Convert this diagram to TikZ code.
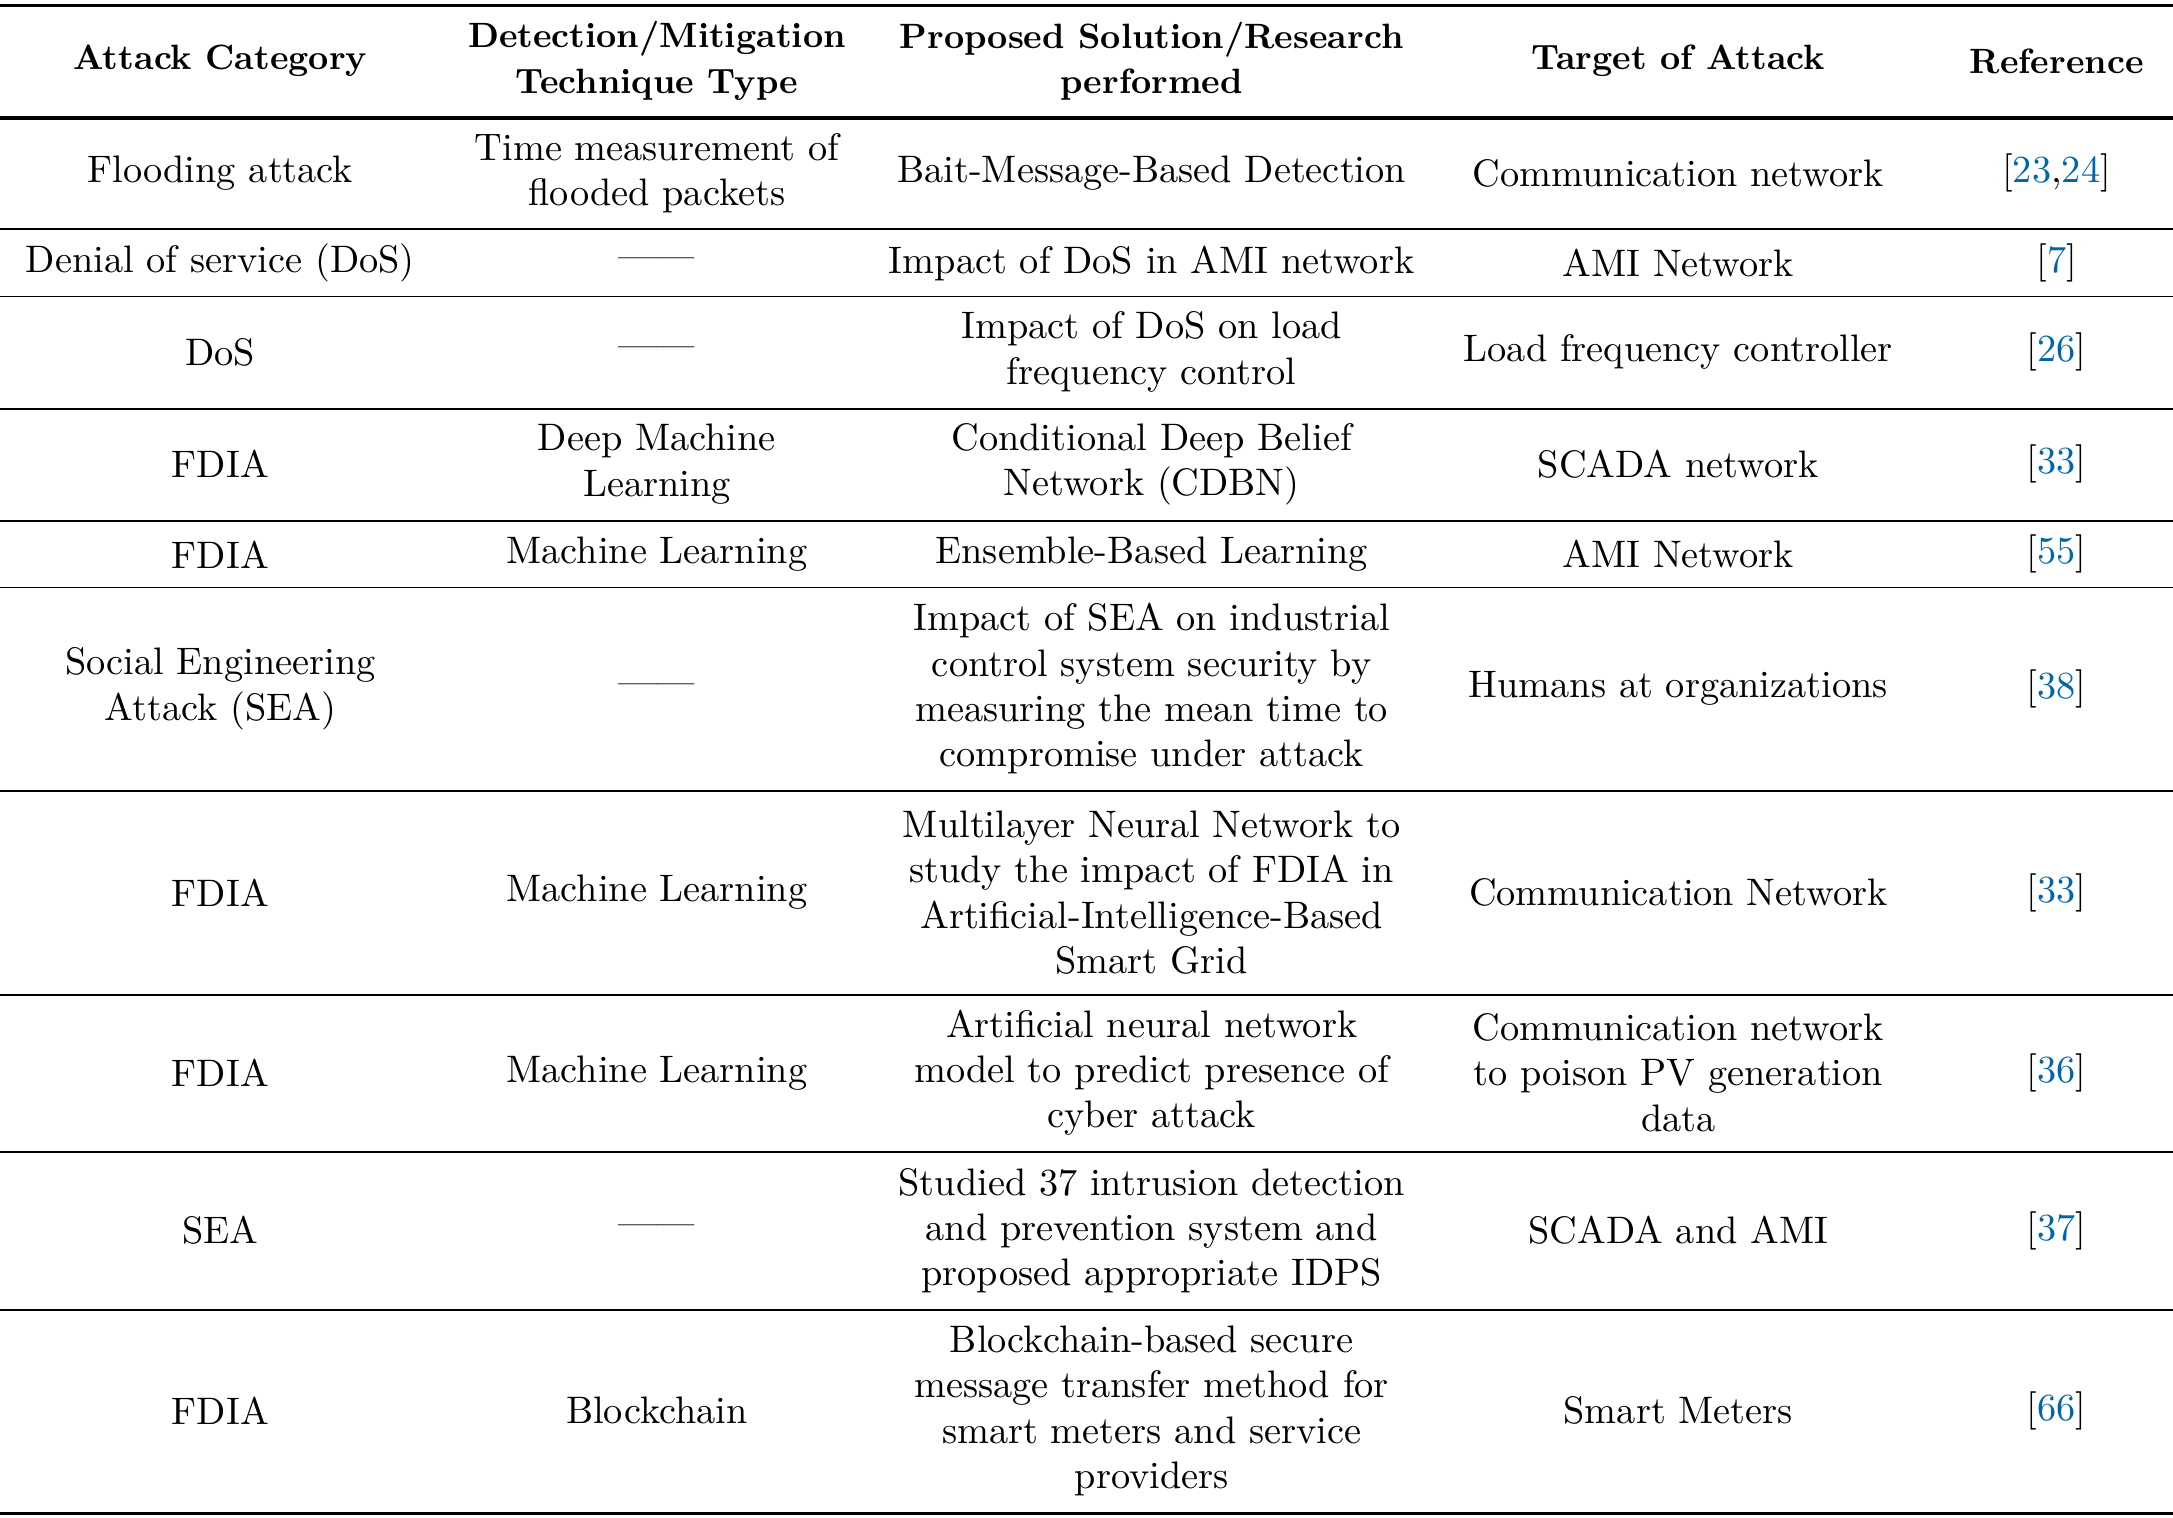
\documentclass[tikz,border=0pt]{standalone}
\usepackage{xcolor}
\definecolor{citeblue}{RGB}{0,102,170}
\tikzset{cell/.style={align=center, font=\fontsize{10.9}{12.9}\selectfont, inner sep=0pt},
         head/.style={cell, font=\fontsize{10}{12.9}\selectfont\bfseries},
         rule/.style={line width=0.5pt}, bigrule/.style={line width=1pt}}
\newcommand{\cit}[1]{[\textcolor{citeblue}{#1}]}
\begin{document}
\begin{tikzpicture}[x=0.01386cm, y=-0.01386cm]
        \useasboundingbox (0,0) rectangle (1568,1095);

        % rules
        \draw[bigrule] (0,4) -- (1568,4);
        \draw[bigrule] (0,85) -- (1568,85);
        \foreach \y in {165,214,295,376,424,571,718,831,945}
            \draw[rule] (0,\y) -- (1568,\y);
        \draw[bigrule] (0,1092) -- (1568,1092);

        % header
        \node[head] (h1) at (159,44) {Attack Category};
        \node[head] (h2) at (474,44) {Detection/Mitigation\\Technique Type};
        \node[head] (h3) at (831,44) {Proposed Solution/Research\\performed};
        \node[head] (h4) at (1211,44) {Target of Attack};
        \node[head] (h5) at (1484,44) {Reference};

        % rows
        \node[cell] (a1) at (159,125) {Flooding attack};
        \node[cell] (b1) at (474,125) {Time measurement of\\flooded packets};
        \node[cell] (c1) at (831,125) {Bait-Message-Based Detection};
        \node[cell] (d1) at (1211,125) {Communication network};
        \node[cell] (e1) at (1484,125) {[\textcolor{citeblue}{23},\textcolor{citeblue}{24}]};

        \node[cell] (a2) at (159,190) {Denial of service (DoS)};
        \node[cell] (b2) at (474,190) {------};
        \node[cell] (c2) at (831,190) {Impact of DoS in AMI network};
        \node[cell] (d2) at (1211,190) {AMI Network};
        \node[cell] (e2) at (1484,190) {\cit{7}};

        \node[cell] (a3) at (159,254) {DoS};
        \node[cell] (b3) at (474,254) {------};
        \node[cell] (c3) at (831,254) {Impact of DoS on load\\frequency control};
        \node[cell] (d3) at (1211,254) {Load frequency controller};
        \node[cell] (e3) at (1484,254) {\cit{26}};

        \node[cell] (a4) at (159,335) {FDIA};
        \node[cell] (b4) at (474,335) {Deep Machine\\Learning};
        \node[cell] (c4) at (831,335) {Conditional Deep Belief\\Network (CDBN)};
        \node[cell] (d4) at (1211,335) {SCADA network};
        \node[cell] (e4) at (1484,335) {\cit{33}};

        \node[cell] (a5) at (159,400) {FDIA};
        \node[cell] (b5) at (474,400) {Machine Learning};
        \node[cell] (c5) at (831,400) {Ensemble-Based Learning};
        \node[cell] (d5) at (1211,400) {AMI Network};
        \node[cell] (e5) at (1484,400) {\cit{55}};

        \node[cell] (a6) at (159,497) {Social Engineering\\Attack (SEA)};
        \node[cell] (b6) at (474,497) {------};
        \node[cell] (c6) at (831,497) {Impact of SEA on industrial\\control system security by\\measuring the mean time to\\compromise under attack};
        \node[cell] (d6) at (1211,497) {Humans at organizations};
        \node[cell] (e6) at (1484,497) {\cit{38}};

        \node[cell] (a7) at (159,644) {FDIA};
        \node[cell] (b7) at (474,644) {Machine Learning};
        \node[cell] (c7) at (831,644) {Multilayer Neural Network to\\study the impact of FDIA in\\Artificial-Intelligence-Based\\Smart Grid};
        \node[cell] (d7) at (1211,644) {Communication Network};
        \node[cell] (e7) at (1484,644) {\cit{33}};

        \node[cell] (a8) at (159,774) {FDIA};
        \node[cell] (b8) at (474,774) {Machine Learning};
        \node[cell] (c8) at (831,774) {Artificial neural network\\model to predict presence of\\cyber attack};
        \node[cell] (d8) at (1211,774) {Communication network\\to poison PV generation\\data};
        \node[cell] (e8) at (1484,774) {\cit{36}};

        \node[cell] (a9) at (159,888) {SEA};
        \node[cell] (b9) at (474,888) {------};
        \node[cell] (c9) at (831,888) {Studied 37 intrusion detection\\and prevention system and\\proposed appropriate IDPS};
        \node[cell] (d9) at (1211,888) {SCADA and AMI};
        \node[cell] (e9) at (1484,888) {\cit{37}};

        \node[cell] (a10) at (159,1018) {FDIA};
        \node[cell] (b10) at (474,1018) {Blockchain};
        \node[cell] (c10) at (831,1018) {Blockchain-based secure\\message transfer method for\\smart meters and service\\providers};
        \node[cell] (d10) at (1211,1018) {Smart Meters};
        \node[cell] (e10) at (1484,1018) {\cit{66}};
\end{tikzpicture}
\end{document}
